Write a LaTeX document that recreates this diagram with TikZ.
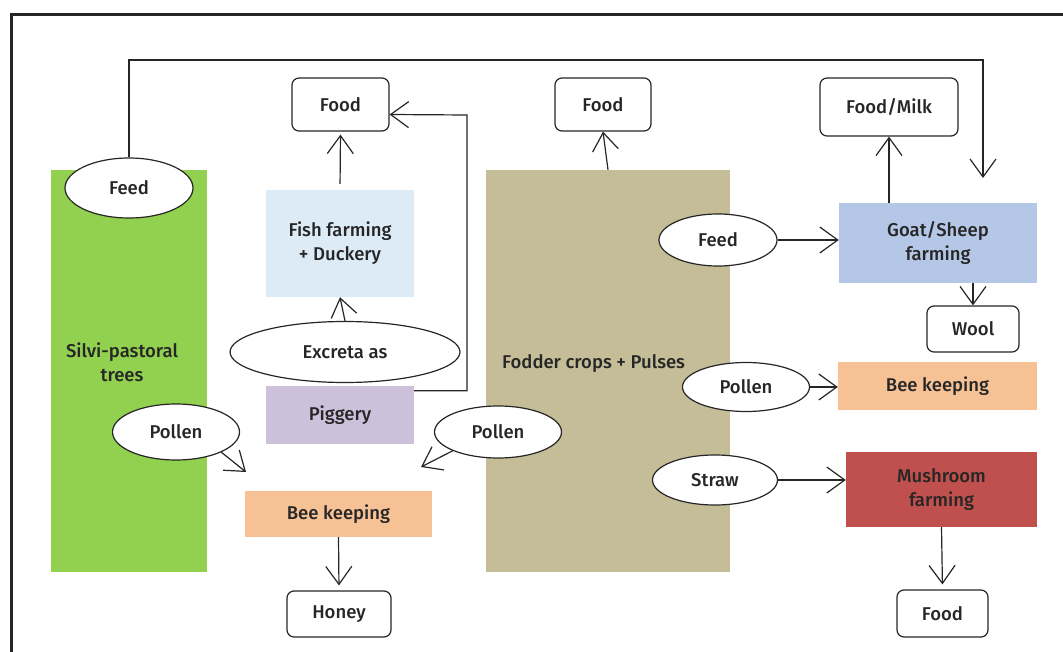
\documentclass[tikz,border=0pt]{standalone}
\usepackage{fontspec}
\setmainfont{Fira Sans}[UprightFont=* Medium]
\usetikzlibrary{arrows.meta}
\definecolor{silvigreen}{RGB}{146,208,80}
\definecolor{fishblue}{RGB}{221,235,247}
\definecolor{pigpurple}{RGB}{204,192,218}
\definecolor{beepeach}{RGB}{247,193,150}
\definecolor{fodderkhaki}{RGB}{196,189,151}
\definecolor{goatblue}{RGB}{180,199,231}
\definecolor{mushred}{RGB}{192,80,77}
\tikzset{
  unitbox/.style={rectangle, inner sep=0pt, align=center, text=black!85},
  outbox/.style={rectangle, rounded corners=7pt, draw=black!85, line width=1.2pt, fill=white, inner sep=0pt, text=black!85},
  oval/.style={ellipse, draw=black!85, line width=1.2pt, fill=white, inner sep=0pt, text=black!85},
  flow/.style={draw=black!85, line width=1.2pt, -{Straight Barb[length=18pt,width=26pt]}}
}
\usetikzlibrary{shapes.geometric}
\begin{document}
\begin{tikzpicture}[x=1pt, y=-1pt, font=\fontsize{18.5}{24}\selectfont]
  \useasboundingbox (0,0) rectangle (1063,652);
  % Frame
  \draw[line width=3pt, black!85] (11,652) -- (11,15) -- (1063,15);
  % Big blocks
  \node[unitbox, fill=silvigreen, minimum width=156pt, minimum height=402pt] (silvi) at (129,371) {};
  \node[unitbox] (silvitxt) at (122,362) {Silvi-pastoral\\trees};
  \node[unitbox, fill=fodderkhaki, minimum width=244pt, minimum height=402pt] (fodder) at (608,371) {};
  \node[unitbox, anchor=west] (foddertxt) at (502,364) {Fodder crops + Pulses};
  % Enterprises
  \node[unitbox, fill=fishblue, minimum width=148pt, minimum height=107pt] (fish) at (340,243.5) {Fish farming\\+ Duckery};
  \node[unitbox, fill=pigpurple, minimum width=148pt, minimum height=58pt] (piggery) at (340,415) {Piggery};
  \node[unitbox, fill=beepeach, minimum width=187pt, minimum height=46pt] (beeL) at (338.5,514) {Bee keeping};
  \node[unitbox, fill=goatblue, minimum width=198pt, minimum height=80pt] (goat) at (938,243) {Goat/Sheep\\farming};
  \node[unitbox, fill=beepeach, minimum width=199pt, minimum height=48pt] (beeR) at (937.5,386) {Bee keeping};
  \node[unitbox, fill=mushred, minimum width=191pt, minimum height=75pt] (mushroom) at (941.5,489.5) {Mushroom\\farming};
  % Products
  \node[outbox, minimum width=97pt, minimum height=53pt] (foodA) at (340.5,104.5) {Food};
  \node[outbox, minimum width=96pt, minimum height=53pt] (foodB) at (603,104.5) {Food};
  \node[outbox, minimum width=138pt, minimum height=58pt] (foodmilk) at (889,107) {Food/Milk};
  \node[outbox, minimum width=92pt, minimum height=46pt] (wool) at (973,329) {Wool};
  \node[outbox, minimum width=104pt, minimum height=46pt] (honey) at (339,614) {Honey};
  \node[outbox, minimum width=91pt, minimum height=47pt] (foodC) at (942.5,613.5) {Food};
  % Flows
  \node[oval, minimum width=128pt, minimum height=60pt] (feedL) at (129,188) {Feed};
  \node[oval, minimum width=230pt, minimum height=61pt] (excreta) at (345,352) {Excreta as};
  \node[oval, minimum width=127pt, minimum height=56pt] (pollenL) at (176,432) {Pollen};
  \node[oval, minimum width=127pt, minimum height=52pt] (pollenM) at (498,432) {Pollen};
  \node[oval, minimum width=118pt, minimum height=52pt] (feedR) at (718,240) {Feed};
  \node[oval, minimum width=127pt, minimum height=49pt] (pollenR) at (746,387) {Pollen};
  \node[oval, minimum width=125pt, minimum height=50pt] (straw) at (715,480) {Straw};
  % Free ends
  \coordinate (feedturn) at (983,60);
  \coordinate (feedend) at (983,178);
  \coordinate (pigturn) at (467,115);
  \coordinate (beeLin) at (246,472);
  \coordinate (beeMin) at (421,467);
  % Connectors
  \draw[flow] (feedL.north) |- (feedturn) -- (feedend);
  \draw[flow, shorten <=6pt, shorten >=3pt] (fish.north) -- (foodA.south);
  \draw[flow] (excreta.north) -- (fish.south);
  \draw[flow] ([yshift=-5pt]piggery.north east) -| (pigturn) -- ([yshift=-10pt]foodA.east);
  \draw[flow] (pollenL.south east) -- (beeLin);
  \draw[flow] (pollenM.south west) -- (beeMin);
  \draw[flow, shorten >=5pt] (beeL.south) -- (honey.north);
  \draw[flow] (fodder.north) -- (foodB.south);
  \draw[flow] (feedR.east) -- (feedR.east -| goat.west);
  \draw[flow] (foodmilk.south |- goat.north) -- (foodmilk.south);
  \draw[flow] (wool.north |- goat.south) -- (wool.north);
  \draw[flow] (pollenR.east) -- (pollenR.east -| beeR.west);
  \draw[flow] (straw.east) -- (straw.east -| mushroom.west);
  \draw[flow, shorten >=5pt] (mushroom.south) -- (foodC.north);
\end{tikzpicture}
\end{document}
